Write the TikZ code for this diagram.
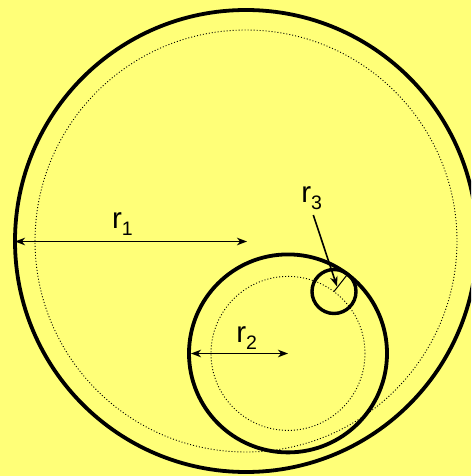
\documentclass[tikz,border=0pt]{standalone}
\usepackage{fontspec}
\setmainfont{Liberation Sans}
\usetikzlibrary{arrows.meta}
\definecolor{bgyellow}{RGB}{255,255,120}
\tikzset{
  thickcirc/.style={draw=black, line width=3.8pt},
  dotcirc/.style={draw=black, line width=0.9pt, dash pattern=on 1pt off 2pt},
  dimarrow/.style={draw=black, line width=1.6pt, {Stealth[length=10pt,width=7.5pt,inset=3pt]}-{Stealth[length=10pt,width=7.5pt,inset=3pt]}},
  onearrow/.style={draw=black, line width=1.6pt, -{Stealth[length=10pt,width=7.5pt,inset=3pt]}},
  radlabel/.style={anchor=base west, inner sep=0pt, outer sep=0pt}
}
\newcommand{\rlab}[1]{\fontsize{29.5}{29.5}\selectfont r\raisebox{-6.7pt}{\fontsize{19.5}{19.5}\selectfont #1}}
\begin{document}
\begin{tikzpicture}[x=1pt,y=-1pt]
\fill[bgyellow] (0,0) rectangle (471,476);
\useasboundingbox (0,0) rectangle (471,476);
\clip (0,0) rectangle (471,476);
% centres
\coordinate (c1) at (246,241);
\coordinate (c2) at (288,353.4);
\coordinate (c3) at (334,291.5);
% circles
\draw[thickcirc] (c1) circle[radius=231];
\draw[dotcirc] (c1) circle[radius=211];
\draw[thickcirc] (c2) circle[radius=99];
\draw[dotcirc] (c2) circle[radius=77];
\draw[thickcirc, line width=3.4pt] (c3) circle[radius=22];
% r1 dimension
\coordinate (a1) at (15,241.5);
\coordinate (b1) at (247,241.5);
\draw[dimarrow] (a1) -- (b1);
\node[radlabel] (l1) at (112,228.3) {\rlab{1}};
% r2 dimension
\coordinate (a2) at (191,353.5);
\coordinate (b2) at (288,353.5);
\draw[dimarrow] (a2) -- (b2);
\node[radlabel] (l2) at (236.4,342.7) {\rlab{2}};
% r3
\coordinate (t3) at (347,275);
\draw[black, line width=1pt] (c3) -- (t3);
\node[radlabel] (l3) at (301.4,202.7) {\rlab{3}};
\coordinate (s3) at (313.3,215);
\coordinate (e3) at (337,286.5);
\draw[onearrow] (s3) -- (e3);
\end{tikzpicture}
\end{document}
